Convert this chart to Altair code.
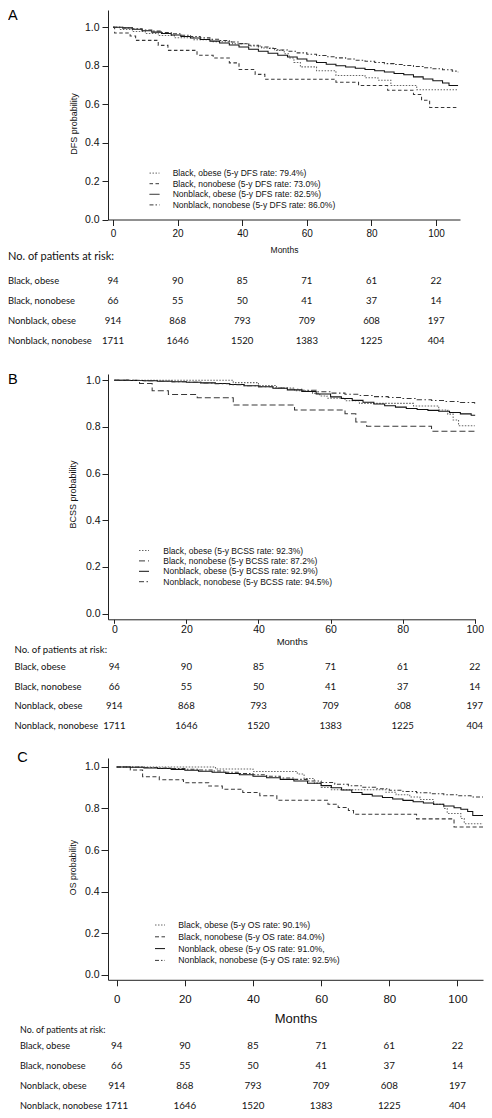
import altair as alt
import pandas as pd

# ---------------- data ----------------
GROUPS = ["Black, obese", "Black, nonobese", "Nonblack, obese", "Nonblack, nonobese"]
MONTH_TICKS = [0, 20, 40, 60, 80, 100]
PROB_TICKS = [0.0, 0.2, 0.4, 0.6, 0.8, 1.0]

RISK_BLACK_OBESE = [94, 90, 85, 71, 61, 22]
RISK_BLACK_NONOBESE = [66, 55, 50, 41, 37, 14]
RISK_NONBLACK_OBESE = [914, 868, 793, 709, 608, 197]
RISK_NONBLACK_NONOBESE = [1711, 1646, 1520, 1383, 1225, 404]

DFS_LABELS = ["Black, obese (5-y DFS rate: 79.4%)",
              "Black, nonobese (5-y DFS rate: 73.0%)",
              "Nonblack, obese (5-y DFS rate: 82.5%)",
              "Nonblack, nonobese (5-y DFS rate: 86.0%)"]
BCSS_LABELS = ["Black, obese (5-y BCSS rate: 92.3%)",
               "Black, nonobese (5-y BCSS rate: 87.2%)",
               "Nonblack, obese (5-y BCSS rate: 92.9%)",
               "Nonblack, nonobese (5-y BCSS rate: 94.5%)"]
OS_LABELS = ["Black, obese (5-y OS rate: 90.1%)",
             "Black, nonobese (5-y OS rate: 84.0%)",
             "Nonblack, obese (5-y OS rate: 91.0%,",
             "Nonblack, nonobese (5-y OS rate: 92.5%)"]

# --- A: DFS ---
DFS_BO_T = [0, 2, 6, 10, 14, 19, 25, 31, 37, 42, 46, 50, 53, 54.5, 56, 58, 63, 69, 78, 82, 86, 94, 106.8]
DFS_BO_S = [1.0, 0.989, 0.978, 0.968, 0.957, 0.946, 0.935, 0.925, 0.914, 0.903, 0.892, 0.88, 0.862, 0.84,
            0.817, 0.794, 0.774, 0.749, 0.737, 0.725, 0.697, 0.675, 0.675]
DFS_BN_T = [0, 0.5, 5.3, 7, 14, 17, 26, 31, 36, 39, 44, 47, 69, 76, 85, 93, 95.5, 98, 106.8]
DFS_BN_S = [1.0, 0.97, 0.955, 0.932, 0.906, 0.88, 0.855, 0.84, 0.815, 0.78, 0.755, 0.73, 0.714, 0.697,
            0.672, 0.65, 0.62, 0.583, 0.583]
DFS_NO_T = [0, 3, 6, 9, 12, 15, 18, 21, 24, 27, 30, 33, 36, 39, 42, 45, 48, 51, 54, 57, 60, 63, 66, 69,
            72, 75, 78, 81, 84, 87, 90, 93, 96, 99, 102, 104, 106.8]
DFS_NO_S = [1.0, 0.997, 0.99, 0.982, 0.975, 0.968, 0.96, 0.952, 0.944, 0.936, 0.928, 0.918, 0.908, 0.897,
            0.886, 0.875, 0.865, 0.855, 0.845, 0.835, 0.825, 0.817, 0.808, 0.8, 0.793, 0.787, 0.78, 0.774,
            0.767, 0.76, 0.753, 0.742, 0.731, 0.722, 0.71, 0.697, 0.697]
DFS_NN_T = [0, 3, 6, 9, 12, 15, 18, 21, 24, 27, 30, 33, 36, 39, 42, 45, 48, 51, 54, 57, 60, 63, 66, 69,
            72, 75, 78, 81, 84, 87, 90, 93, 96, 99, 102, 105, 106.8]
DFS_NN_S = [1.0, 0.997, 0.992, 0.986, 0.98, 0.973, 0.966, 0.959, 0.952, 0.945, 0.938, 0.931, 0.923, 0.915,
            0.907, 0.898, 0.89, 0.882, 0.875, 0.867, 0.86, 0.853, 0.847, 0.841, 0.835, 0.829, 0.823, 0.817,
            0.811, 0.806, 0.801, 0.796, 0.79, 0.784, 0.779, 0.772, 0.766]

# --- B: BCSS ---
BCSS_BO_T = [0, 33, 40, 45, 50, 55, 57, 59, 64, 68, 83, 90, 92.5, 94, 95.5, 100]
BCSS_BO_S = [1.0, 0.99, 0.978, 0.967, 0.955, 0.944, 0.933, 0.923, 0.912, 0.901, 0.89, 0.873, 0.855, 0.83,
             0.805, 0.805]
BCSS_BN_T = [0, 7, 10.5, 15, 23, 33, 50, 64, 67, 70, 88, 100]
BCSS_BN_S = [1.0, 0.986, 0.955, 0.939, 0.925, 0.894, 0.873, 0.857, 0.821, 0.803, 0.782, 0.782]
BCSS_NO_T = [0, 4, 8, 12, 16, 20, 24, 28, 32, 36, 40, 44, 48, 52, 56, 60, 63, 66, 69, 72, 75, 78, 81, 84,
             87, 90, 93, 96, 99, 100]
BCSS_NO_S = [1.0, 0.999, 0.998, 0.996, 0.994, 0.992, 0.989, 0.986, 0.982, 0.977, 0.972, 0.966, 0.959,
             0.952, 0.941, 0.929, 0.922, 0.914, 0.906, 0.898, 0.891, 0.885, 0.879, 0.875, 0.871, 0.867,
             0.862, 0.856, 0.85, 0.848]
BCSS_NN_T = [0, 4, 8, 12, 16, 20, 24, 28, 32, 36, 40, 44, 48, 52, 56, 60, 64, 68, 72, 76, 80, 84, 88, 92,
             96, 100]
BCSS_NN_S = [1.0, 0.999, 0.998, 0.996, 0.994, 0.991, 0.988, 0.985, 0.981, 0.977, 0.972, 0.967, 0.962,
             0.957, 0.951, 0.945, 0.94, 0.935, 0.93, 0.926, 0.922, 0.917, 0.913, 0.909, 0.905, 0.9]

# --- C: OS ---
OS_BO_T = [0, 29, 40, 53, 55, 58, 60, 63, 79, 82, 86, 89, 93, 96, 97, 101, 102, 107.5]
OS_BO_S = [1.0, 0.99, 0.978, 0.966, 0.944, 0.922, 0.901, 0.89, 0.878, 0.866, 0.855, 0.843, 0.82, 0.80,
           0.776, 0.752, 0.727, 0.727]
OS_BN_T = [0, 4, 7.6, 12.5, 19.6, 27, 31, 37, 42, 47, 62, 65, 68, 69.5, 88, 99, 107.5]
OS_BN_S = [1.0, 0.985, 0.953, 0.938, 0.924, 0.908, 0.893, 0.877, 0.861, 0.84, 0.82, 0.805, 0.79, 0.772,
           0.75, 0.711, 0.711]
OS_NO_T = [0, 4, 8, 12, 16, 20, 24, 28, 32, 36, 40, 44, 48, 52, 56, 60, 63, 66, 69, 72, 75, 78, 81, 84,
           87, 90, 93, 96, 99, 101, 103, 104.5, 107.5]
OS_NO_S = [1.0, 0.998, 0.995, 0.992, 0.988, 0.984, 0.979, 0.974, 0.968, 0.962, 0.955, 0.948, 0.94, 0.932,
           0.921, 0.91, 0.9, 0.889, 0.877, 0.868, 0.86, 0.853, 0.846, 0.839, 0.832, 0.826, 0.82, 0.812,
           0.804, 0.796, 0.786, 0.766, 0.766]
OS_NN_T = [0, 4, 8, 12, 16, 20, 24, 28, 32, 36, 40, 44, 48, 52, 56, 60, 64, 68, 72, 76, 80, 84, 88, 92,
           96, 100, 104, 107.5]
OS_NN_S = [1.0, 0.999, 0.997, 0.995, 0.992, 0.989, 0.985, 0.98, 0.974, 0.968, 0.962, 0.955, 0.947, 0.94,
           0.932, 0.925, 0.917, 0.909, 0.902, 0.895, 0.888, 0.882, 0.876, 0.871, 0.866, 0.861, 0.855, 0.848]

# ---------------- styling / layout ----------------
LINE_COLORS = ["#666666", "#383838", "#111111", "#383838"]
AXIS_FONT = "Liberation Sans"
TABLE_FONT = "Lato"

PANELS = [
    dict(letter="A", ytitle="DFS probability", labels=DFS_LABELS,
         series=[(DFS_BO_T, DFS_BO_S), (DFS_BN_T, DFS_BN_S), (DFS_NO_T, DFS_NO_S), (DFS_NN_T, DFS_NN_S)],
         dashes=[[1.5, 1.5], [3.5, 2.5], [1, 0], [4, 2, 1.5, 2]],
         W=352, H=209.5, xdom=[-1.55, 107.4], ydom=[0, 1.09],
         letterX=-100, letterY=6.4, letterFs=14.5,
         xLabFs=10, xTick=6, xLabPad=3, xTitleFs=8.5, xTitlePad=7,
         yLabFs=10.5, yTick=6, yLabPad=3, yTitleFs=9, yTitleX=-30, yTitleY=113.4,
         legX=41, legY=157.6, legFs=8.5, legOff=12.7, legRowPad=0.6,
         TH=153.8, rows=[60.5, 120.6], hdrY=36.5, labX=-100, labFs=9.4, hdrFs=11, numFs=9.6),
    dict(letter="B", ytitle="BCSS probability", labels=BCSS_LABELS,
         series=[(BCSS_BO_T, BCSS_BO_S), (BCSS_BN_T, BCSS_BN_S), (BCSS_NO_T, BCSS_NO_S), (BCSS_NN_T, BCSS_NN_S)],
         dashes=[[1.5, 1.5], [6, 3], [1, 0], [5, 2.5, 1.5, 2.5]],
         W=367.5, H=245.3, xdom=[-1.75, 100.2], ydom=[-0.0244, 1.027],
         letterX=-100, letterY=6.0, letterFs=14.5,
         xLabFs=10.5, xTick=4, xLabPad=1, xTitleFs=9.5, xTitlePad=2,
         yLabFs=10.5, yTick=6, yLabPad=2, yTitleFs=9, yTitleX=-30.5, yTitleY=120,
         legX=30.5, legY=171.0, legFs=8.5, legOff=13.8, legRowPad=0.4,
         TH=137.3, rows=[46.9, 106.1], hdrY=29.8, labX=-93.5, labFs=9.4, hdrFs=9.6, numFs=9.6),
    dict(letter="C", ytitle="OS probability", labels=OS_LABELS,
         series=[(OS_BO_T, OS_BO_S), (OS_BN_T, OS_BN_S), (OS_NO_T, OS_NO_S), (OS_NN_T, OS_NN_S)],
         dashes=[[1.5, 1.5], [4, 2.5], [1, 0], [4, 2, 1.5, 2]],
         W=375, H=221.8, xdom=[-2.55, 107.5], ydom=[-0.0236, 1.0428],
         letterX=-90.7, letterY=0, letterFs=14.5,
         xLabFs=11.5, xTick=6, xLabPad=8, xTitleFs=13, xTitlePad=7.5,
         yLabFs=10.5, yTick=7, yLabPad=2, yTitleFs=8.8, yTitleX=-30.5, yTitleY=109,
         legX=46.5, legY=161.5, legFs=8.7, legOff=12.8, legRowPad=0.8,
         TH=130, rows=[66.4, 126.0], hdrY=50.1, labX=-88, labFs=9.2, hdrFs=8.9, numFs=9.8),
]


def plot_chart(P):
    recs = []
    for lab, (t, s) in zip(P["labels"], P["series"]):
        for a, b in zip(t, s):
            recs.append({"t": a, "s": b, "g": lab})
    df = pd.DataFrame(recs)
    leg = alt.Legend(orient="none", legendX=P["legX"], legendY=P["legY"], direction="vertical",
                     title=None, symbolType="stroke", symbolSize=100, symbolStrokeWidth=1,
                     labelFont=AXIS_FONT, labelFontSize=P["legFs"], labelColor="#111111",
                     labelOffset=P["legOff"], rowPadding=P["legRowPad"], padding=0, labelLimit=400)
    lines = alt.Chart(df).mark_line(interpolate="step-after", strokeWidth=1.05, clip=True).encode(
        x=alt.X("t:Q", scale=alt.Scale(domain=P["xdom"], nice=False, zero=False),
                axis=alt.Axis(values=MONTH_TICKS, title="Months", labelFontSize=P["xLabFs"],
                              tickSize=P["xTick"], labelPadding=P["xLabPad"],
                              titleFontSize=P["xTitleFs"], titlePadding=P["xTitlePad"],
                              labelFlush=False, labelOverlap=False)),
        y=alt.Y("s:Q", scale=alt.Scale(domain=P["ydom"], nice=False, zero=False),
                axis=alt.Axis(values=PROB_TICKS, format=".1f", title=P["ytitle"],
                              labelFontSize=P["yLabFs"], tickSize=P["yTick"], labelPadding=P["yLabPad"],
                              titleFontSize=P["yTitleFs"], titleX=P["yTitleX"], titleY=P["yTitleY"],
                              labelOverlap=False, labelFlush=False)),
        color=alt.Color("g:N", scale=alt.Scale(domain=P["labels"], range=LINE_COLORS), legend=leg),
        strokeDash=alt.StrokeDash("g:N", scale=alt.Scale(domain=P["labels"], range=P["dashes"]), legend=leg),
    )
    letter = alt.Chart(pd.DataFrame({"txt": [P["letter"]]})).mark_text(
        align="left", baseline="middle", font=AXIS_FONT, fontSize=P["letterFs"], color="#000000"
    ).encode(x=alt.value(P["letterX"]), y=alt.value(P["letterY"]), text="txt:N")
    return alt.layer(lines, letter).properties(width=P["W"], height=P["H"])


def table_chart(P):
    risks = [RISK_BLACK_OBESE, RISK_BLACK_NONOBESE, RISK_NONBLACK_OBESE, RISK_NONBLACK_NONOBESE]
    recs = []
    for g, vals in zip(GROUPS, risks):
        for m, n in zip(MONTH_TICKS, vals):
            recs.append({"group": g, "month": m, "n": n})
    tdf = pd.DataFrame(recs)
    yscale = alt.Scale(type="point", domain=GROUPS, range=P["rows"], padding=0)
    xscale = alt.Scale(domain=P["xdom"], nice=False, zero=False)
    nums = alt.Chart(tdf).mark_text(font=TABLE_FONT, fontSize=P["numFs"], color="#111111").encode(
        x=alt.X("month:Q", scale=xscale, axis=None),
        y=alt.Y("group:N", scale=yscale, axis=None),
        text=alt.Text("n:Q", format="d"),
    )
    labs = alt.Chart(pd.DataFrame({"group": GROUPS})).mark_text(
        align="left", font=TABLE_FONT, fontSize=P["labFs"], color="#111111"
    ).encode(x=alt.value(P["labX"]), y=alt.Y("group:N", scale=yscale, axis=None), text="group:N")
    hdr = alt.Chart(pd.DataFrame({"h": ["No. of patients at risk:"]})).mark_text(
        align="left", font=TABLE_FONT, fontSize=P["hdrFs"], color="#111111"
    ).encode(x=alt.value(P["labX"]), y=alt.value(P["hdrY"]), text="h:N")
    return alt.layer(nums, labs, hdr).properties(width=P["W"], height=P["TH"])


charts = []
for P in PANELS:
    charts.append(plot_chart(P))
    charts.append(table_chart(P))

chart = alt.vconcat(*charts, spacing=0, bounds="flush").resolve_scale(
    color="independent", strokeDash="independent"
).resolve_legend(
    color="independent", strokeDash="independent"
).properties(
    padding=0, background="white"
).configure_view(stroke=None).configure_axis(
    grid=False, domainColor="#222222", tickColor="#222222", labelColor="#111111",
    titleColor="#111111", labelFont=AXIS_FONT, titleFont=AXIS_FONT, titleFontWeight="normal",
    domainWidth=1, tickWidth=1
)

chart.save("out.html", embed_options={"renderer": "svg", "actions": False})
